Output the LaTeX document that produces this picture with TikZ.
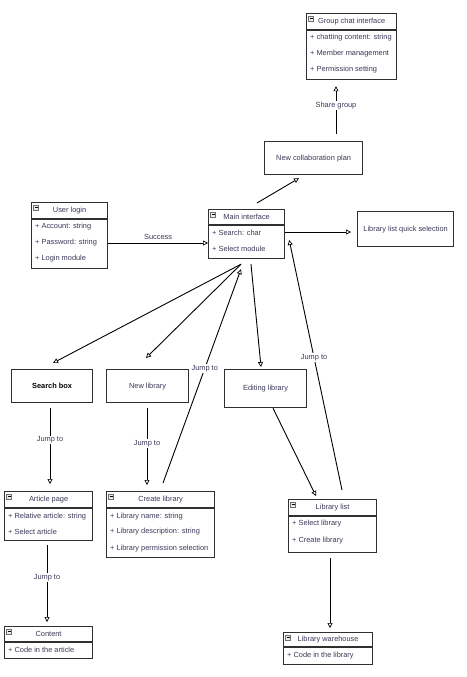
\documentclass[tikz,border=0pt]{standalone}
\usepackage{fontspec}
\setmainfont{Liberation Sans}
\usetikzlibrary{calc,arrows.meta}
\definecolor{txt}{HTML}{383858}
\definecolor{boxc}{HTML}{303030}
\definecolor{iconc}{HTML}{707070}
\tikzset{
  x=1pt, y=-1pt,
  box/.style={draw=boxc, line width=1.2pt, inner sep=0pt, anchor=north west, fill=white},
  plain/.style={box, font=\fontsize{7.4}{8}\selectfont, text=txt, align=center},
  sep/.style={draw=boxc, line width=1.2pt},
  hdr/.style={font=\fontsize{7.4}{8}\selectfont, text=txt, inner sep=0pt},
  row/.style={font=\fontsize{7.4}{8}\selectfont, text=txt, anchor=west, inner sep=0pt},
  lbl/.style={font=\fontsize{7.4}{8}\selectfont, text=txt, fill=white, inner sep=1pt},
  conn/.style={draw=black, line width=0.9pt, -{Triangle[open, length=5pt, width=5pt, line width=0.7pt]}},
}
% \umlbox{name}{x}{y}{w}{h}{header height}{title}
\newcommand{\umlbox}[7]{%
  \node[box, minimum width=#4pt, minimum height=#5pt] (#1) at (#2,#3) {};
  \draw[sep] ($(#1.north west)+(0,#6)$) -- ($(#1.north east)+(0,#6)$);
  \draw[iconc, fill=gray!15, line width=0.5pt] ($(#1.north west)+(2.5,3)$) rectangle ($(#1.north west)+(7.5,8)$);
  \draw[black, line width=0.6pt] ($(#1.north west)+(3.5,5.5)$) -- ($(#1.north west)+(6.5,5.5)$);
  \node[hdr] (#1-t) at ($(#1.north west)!0.5!(#1.north east)+(0,#6/2)$) {#7};
}
\begin{document}
\begin{tikzpicture}
\useasboundingbox[fill=white] (0,0) rectangle (466,677);

% Group chat interface
\umlbox{group}{306}{13}{90}{66}{17}{Group chat interface}
\node[row] (group-r1) at ($(group.north west)+(4,25)$) {+ chatting content: string};
\node[row] (group-r2) at ($(group.north west)+(4,41)$) {+ Member management};
\node[row] (group-r3) at ($(group.north west)+(4,57)$) {+ Permission setting};

% New collaboration plan
\node[plain, minimum width=98pt, minimum height=33pt] (collab) at (264,141) {New collaboration plan};

% Main interface
\umlbox{main}{208}{209}{76}{49}{16}{Main interface}
\node[row] (main-r1) at ($(main.north west)+(4,24)$) {+ Search: char};
\node[row] (main-r2) at ($(main.north west)+(4,40)$) {+ Select module};

% Library list quick selection
\node[plain, minimum width=96pt, minimum height=35pt] (quick) at (357,211) {Library list quick selection};

% User login
\umlbox{login}{31}{202}{76}{66}{17}{User login}
\node[row] (login-r1) at ($(login.north west)+(4,25)$) {+ Account: string};
\node[row] (login-r2) at ($(login.north west)+(4,41)$) {+ Password: string};
\node[row] (login-r3) at ($(login.north west)+(4,57)$) {+ Login module};

% Search box / New library / Editing library
\node[plain, minimum width=81pt, minimum height=33pt, text=black, font=\fontsize{7.4}{8}\selectfont\bfseries] (search) at (11,369) {Search box};
\node[plain, minimum width=82pt, minimum height=33pt] (newlib) at (106,369) {\raisebox{-2pt}{New library}};
\node[plain, minimum width=82pt, minimum height=38pt] (editing) at (224,369) {\raisebox{-2pt}{Editing library}};

% Article page
\umlbox{article}{4}{491}{88}{49}{17}{Article page}
\node[row] (article-r1) at ($(article.north west)+(4,26)$) {+ Relative article: string};
\node[row] (article-r2) at ($(article.north west)+(4,41)$) {+ Select article};

% Create library
\umlbox{create}{106}{491}{108}{66}{17}{Create library}
\node[row] (create-r1) at ($(create.north west)+(4,26)$) {+ Library name: string};
\node[row] (create-r2) at ($(create.north west)+(4,41)$) {+ Library description: string};
\node[row] (create-r3) at ($(create.north west)+(4,58)$) {+ Library permission selection};

% Content
\umlbox{content}{4}{626}{88}{32}{16}{Content}
\node[row] (content-r1) at ($(content.north west)+(4,24)$) {+ Code in the article};

% Library list
\umlbox{liblist}{288}{499}{88}{53}{17}{Library list}
\node[row] (liblist-r1) at ($(liblist.north west)+(4,25)$) {+ Select library};
\node[row] (liblist-r2) at ($(liblist.north west)+(4,42)$) {+ Create library};

% Library warehouse
\umlbox{warehouse}{283}{632}{89}{32}{15}{Library warehouse}
\node[row] (warehouse-r1) at ($(warehouse.north west)+(4,24)$) {+ Code in the library};

% ---------- connectors ----------
\draw[conn] ($(login.north east)+(0,41)$) -- node[lbl, above=2pt, fill=none] {Success} ($(main.north west)+(0,34)$);
\draw[conn] ($(main.north east)+(0,23)$) -- ($(quick.north west)+(-6,21)$);
\draw[conn] ($(main.north west)+(49,-6)$) -- ($(collab.south west)+(35,3)$);
\draw[conn] ($(collab.north west)+(72,-7)$) -- node[lbl, pos=0.6] {Share group} ($(group.south west)+(30,6)$);
\draw[conn] ($(main.south west)+(33,5)$) -- ($(search.north west)+(42,-6)$);
\draw[conn] ($(main.south west)+(33,5)$) -- ($(newlib.north west)+(40,-11)$);
\draw[conn] ($(create.north west)+(57,-8)$) -- node[lbl, pos=0.535] {Jump to} ($(main.south west)+(33,10)$);
\draw[conn] ($(main.south west)+(43,5)$) -- ($(editing.north west)+(37,-2)$);
\draw[conn] ($(editing.south west)+(49,0)$) -- ($(liblist.north west)+(28,-3)$);
\draw[conn] ($(liblist.north west)+(54,-9)$) -- node[lbl, pos=0.53] {Jump to} ($(main.north east)+(4,31)$);
\draw[conn] ($(search.south west)+(39,5)$) -- node[lbl, pos=0.42] {Jump to} ($(article.north west)+(46,-7)$);
\draw[conn] ($(newlib.south west)+(41,5)$) -- node[lbl, pos=0.46] {Jump to} ($(create.north west)+(41,-6)$);
\draw[conn] ($(article.south west)+(43,4)$) -- node[lbl, pos=0.42] {Jump to} ($(content.north west)+(43,-4)$);
\draw[conn] ($(liblist.south west)+(42,5)$) -- ($(warehouse.north west)+(47,-4)$);
\end{tikzpicture}
\end{document}
